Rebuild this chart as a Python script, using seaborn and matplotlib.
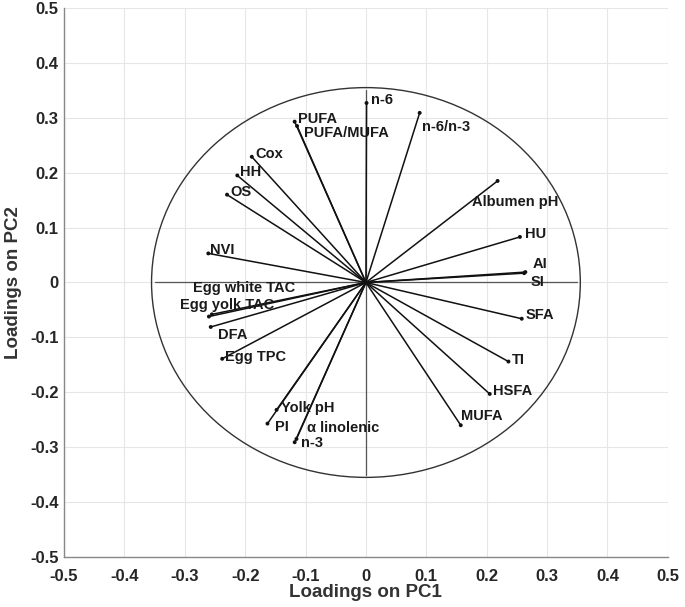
import numpy as np
import pandas as pd
import matplotlib
matplotlib.use("Agg")
import matplotlib.pyplot as plt
from matplotlib.patches import Circle
import seaborn as sns

# ---- data (PCA loadings) ----
variables = ["n-6", "n-6/n-3", "PUFA", "PUFA/MUFA", "Cox", "HH", "OS", "NVI",
             "Egg white TAC", "Egg yolk TAC", "DFA", "Egg TPC", "Yolk pH", "PI",
             "α linolenic", "n-3", "Albumen pH", "HU", "AI", "SI", "SFA", "TI",
             "HSFA", "MUFA"]
pc1 = [0.001, 0.089, -0.118, -0.114, -0.189, -0.213, -0.230, -0.261,
       -0.255, -0.260, -0.257, -0.238, -0.148, -0.163,
       -0.115, -0.118, 0.218, 0.255, 0.264, 0.262, 0.258, 0.236,
       0.205, 0.157]
pc2 = [0.327, 0.309, 0.293, 0.285, 0.229, 0.195, 0.160, 0.053,
       -0.058, -0.062, -0.081, -0.139, -0.232, -0.257,
       -0.285, -0.291, 0.185, 0.083, 0.019, 0.017, -0.066, -0.144,
       -0.203, -0.260]
circle_radius = 0.355
axis_extent = 0.35
ticks = [-0.5, -0.4, -0.3, -0.2, -0.1, 0, 0.1, 0.2, 0.3, 0.4, 0.5]
tick_labels = ["-0.5", "-0.4", "-0.3", "-0.2", "-0.1", "0", "0.1", "0.2", "0.3", "0.4", "0.5"]

# label offsets in pixels (layout only)
label_dx = [4, 2, 3, 7, 4, 3, 3, 2, -19, -29, 7, 3, 4, 8, 11, 6, -26, 5, 7, 6, 4, 3, 3, 0]
label_dy = [3, -14, 3, -7, 3, 3, 3, 3, 26, 12, -8, 2, 2, -3, 11, -1, -21, 3, 8, -9, 4, 2, 3, 9]

# ---- build long table for vectors ----
rows = []
for v, x, y in zip(variables, pc1, pc2):
    rows.append({"var": v, "order": 0, "PC1": 0.0, "PC2": 0.0})
    rows.append({"var": v, "order": 1, "PC1": x, "PC2": y})
vec = pd.DataFrame(rows)
ends = pd.DataFrame({"var": variables, "PC1": pc1, "PC2": pc2})

sns.set_theme(style="whitegrid")
plt.rcParams["font.family"] = ["Liberation Sans", "DejaVu Sans"]
plt.rcParams["font.weight"] = "bold"

fig = plt.figure(figsize=(6.85, 6.07), dpi=100)
ax = fig.add_axes([0.0934, 0.0824, 0.8816, 0.9044])

# reference axes lines and circle
ax.plot([-axis_extent, axis_extent], [0, 0], color="#555555", lw=0.9, zorder=1)
ax.plot([0, 0], [-axis_extent, axis_extent], color="#555555", lw=0.9, zorder=1)
ax.add_patch(Circle((0, 0), circle_radius, fill=False, edgecolor="#333333", lw=1.0, zorder=1))

sns.lineplot(data=vec, x="PC1", y="PC2", units="var", estimator=None, sort=False,
             color="#111111", linewidth=1.1, ax=ax, legend=False, zorder=3)
sns.scatterplot(data=ends, x="PC1", y="PC2", color="#111111", s=8, edgecolor="none",
                ax=ax, legend=False, zorder=4)

for v, x, y, dx, dy in zip(variables, pc1, pc2, label_dx, label_dy):
    ax.annotate(v, (x, y), xytext=(dx, dy), textcoords="offset pixels",
                ha="left", va="center", fontsize=10.5, fontweight="bold",
                color="#1a1a1a", zorder=5)

ax.set_xlim(-0.5, 0.5)
ax.set_ylim(-0.5, 0.5)
ax.set_xticks(ticks)
ax.set_yticks(ticks)
ax.set_xticklabels(tick_labels, fontsize=12, fontweight="bold", color="#262626")
ax.set_yticklabels(tick_labels, fontsize=12, fontweight="bold", color="#262626")
ax.tick_params(axis="y", length=0, pad=4)
ax.tick_params(axis="x", length=0, pad=9)
ax.grid(True, color="#e6e6e6", linewidth=0.8)
ax.set_xlabel("Loadings on PC1", fontsize=13.5, fontweight="bold", color="#333333", labelpad=0)
ax.set_ylabel("Loadings on PC2", fontsize=13.5, fontweight="bold", color="#333333", labelpad=6)
for side in ["top", "right"]:
    ax.spines[side].set_visible(False)
for side in ["left", "bottom"]:
    ax.spines[side].set_color("#888888")
    ax.spines[side].set_linewidth(1.0)

fig.savefig("out.png", dpi=100, facecolor="white")
